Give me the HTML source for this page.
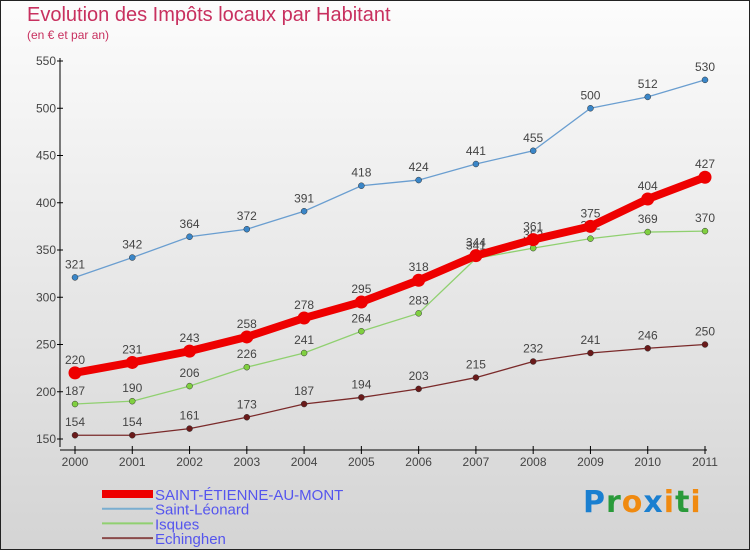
<!DOCTYPE html>
<html><head><meta charset="utf-8"><style>
html,body{margin:0;padding:0}
body{width:750px;height:550px;overflow:hidden;font-family:"Liberation Sans",sans-serif}
#wrap{position:relative;width:748px;height:548px;border:1px solid #222;background:linear-gradient(#fcfcfc,#d4d4d4)}
.t{position:absolute;color:#c8305f}
</style></head><body>
<div id="wrap">
<div class="t" style="left:26px;top:3px;font-size:20px">Evolution des Impôts locaux par Habitant</div>
<div class="t" style="left:26px;top:27px;font-size:12px">(en € et par an)</div>
<svg id="svg" width="748" height="548" style="position:absolute;left:0;top:0"></svg>
<div style="position:absolute;left:582px;top:484px;font-size:30px;font-family:'DejaVu Sans',sans-serif;font-weight:bold;letter-spacing:1px"><span style="color:#1a7fd0">P</span><span style="color:#2a9a3a">r</span><span style="color:#f08a10">o</span><span style="color:#1a7fd0">x</span><span style="color:#f08a10">i</span><span style="color:#2a9a3a">t</span><span style="color:#f08a10">i</span></div>
</div>
<script>
const years=["2000","2001","2002","2003","2004","2005","2006","2007","2008","2009","2010","2011"];
const yTicks=[150,200,250,300,350,400,450,500,550];
const stEtienne=[220,231,243,258,278,295,318,344,361,375,404,427];
const stLeonard=[321,342,364,372,391,418,424,441,455,500,512,530];
const isques=[187,190,206,226,241,264,283,341,352,362,369,370];
const echinghen=[154,154,161,173,187,194,203,215,232,241,246,250];
const names=["SAINT-ÉTIENNE-AU-MONT","Saint-Léonard","Isques","Echinghen"];
const NS="http://www.w3.org/2000/svg";
const svg=document.getElementById('svg');
const x=i=>74+i*(630/11);
const y=v=>438-(v-150)*(378/400);
function el(t,a,p){const e=document.createElementNS(NS,t);for(const k in a)e.setAttribute(k,a[k]);(p||svg).appendChild(e);return e;}
let e;
e=el('line',{x1:59,y1:57,x2:59,y2:446,stroke:'#000','stroke-width':1});


e=el('line',{x1:59,y1:449,x2:706,y2:449,stroke:'#000','stroke-width':1});


yTicks.forEach(v=>{
 el('line',{x1:56,y1:y(v),x2:62,y2:y(v),stroke:'#000'});
 const t=el('text',{x:55,y:y(v)+4,'text-anchor':'end','font-size':12,fill:'#444'});t.textContent=v;
 
 
});
years.forEach((yr,i)=>{
 el('line',{x1:x(i),y1:445,x2:x(i),y2:453,stroke:'#000'});
 const t=el('text',{x:x(i),y:465,'text-anchor':'middle','font-size':12,fill:'#444'});t.textContent=yr;
 
 
});
function series(data,color,dot,w,r,nm){
 const g=el('g',{});
 
 
 el('polyline',{points:data.map((v,i)=>x(i)+','+y(v)).join(' '),fill:'none',stroke:color,'stroke-width':w},g);
 data.forEach((v,i)=>{
  const c=el('circle',{cx:x(i),cy:y(v),r:r,fill:dot,stroke:'#333','stroke-width':r>4?0:0.5},g);
  
  
  const t=el('text',{x:x(i),y:y(v)-9,'text-anchor':'middle','font-size':12,fill:'#444'},g);t.textContent=v;
  
  
 });
}
series(echinghen,'#7a2a2a','#6a1a1a',1.3,3,'series-echinghen');
series(isques,'#90d070','#80d040',1.3,3,'series-isques');
series(stLeonard,'#6a9ed0','#3a86c8',1.3,3,'series-saint-leonard');
series(stEtienne,'#ee0000','#ee0000',8,6.5,'series-saint-etienne');
const lc=['#ee0000','#7aaed0','#90d070','#8a4a4a'],lw=[8,2,2,2];
names.forEach((n,i)=>{
 const yy=493+i*14.7;
 const l=el('line',{x1:101,y1:yy,x2:152,y2:yy,stroke:lc[i],'stroke-width':lw[i]});
 
 
 const t=el('text',{x:154,y:yy+6,'font-size':15,fill:'#5555ee'});t.textContent=n;
 
 
});
</script>
</body></html>
